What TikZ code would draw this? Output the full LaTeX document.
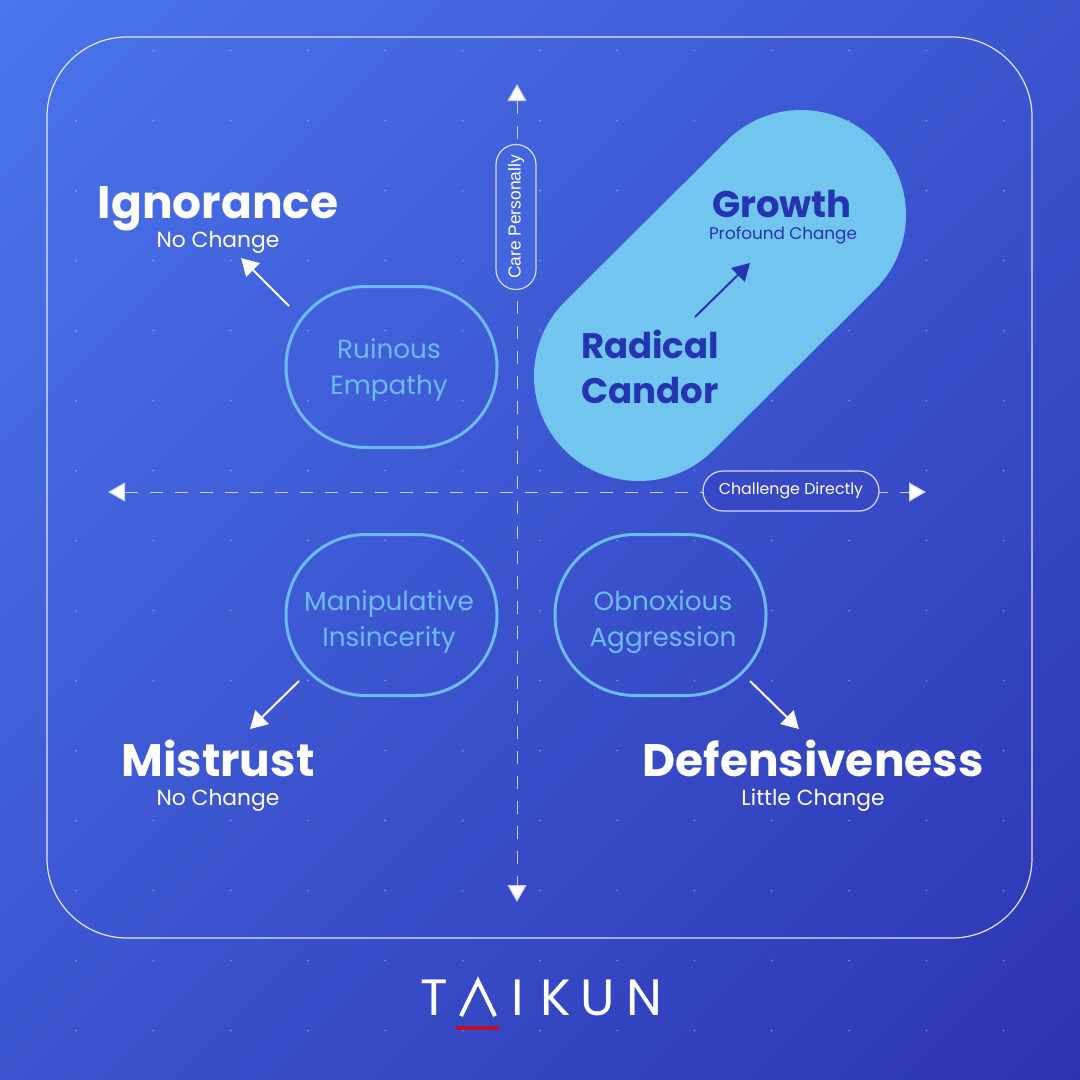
\documentclass[tikz,border=0pt]{standalone}
\usepackage{fontspec}
\usetikzlibrary{arrows.meta,shapes.misc}
\setmainfont{Poppins}
\setsansfont{Liberation Sans}
\definecolor{bgA}{HTML}{5082F8}
\definecolor{bgB}{HTML}{2727A6}
\definecolor{pale}{HTML}{71C5EF}
\definecolor{navy}{HTML}{2534B0}
\definecolor{sky}{HTML}{6DBBF5}
\definecolor{logored}{HTML}{C00F25}
\pgfdeclareverticalshading{bgdiag}{100bp}{color(0bp)=(bgB); color(100bp)=(bgA)}
\tikzset{
  x=1pt,y=-1pt,
  griddot/.style={fill=white,fill opacity=.35,draw=none},
  bigword/.style={text=white,font=\bfseries\fontsize{45.5}{45.5}\selectfont,inner sep=0,anchor=base},
  subword/.style={text=white,font=\fontsize{21.8}{21.8}\selectfont,inner sep=0,anchor=base},
  navyword/.style={text=navy,font=\bfseries\fontsize{35.5}{35.5}\selectfont,inner sep=0,anchor=base},
  blob/.style={draw=sky,line width=3pt,rounded corners=80pt,minimum width=211pt,minimum height=161pt,inner sep=0},
  blobword/.style={text=sky,font=\fontsize{26.3}{36}\selectfont,align=center,inner sep=0},
  axisline/.style={draw=white!80!blue,line width=1pt,dash pattern=on 13pt off 12pt,{Triangle[width=19pt,length=17pt,fill=white]}-{Triangle[width=19pt,length=17pt,fill=white]}},
  pointer/.style={draw=white,line width=2pt,-{Triangle[width=19pt,length=17pt]}},
  pillbox/.style={draw=white!85!blue,line width=1.2pt,rounded rectangle,inner sep=0},
  logoletter/.style={text=white,font=\fontsize{51}{51}\selectfont,inner sep=0}
}
\begin{document}
\begin{tikzpicture}
\useasboundingbox (0,0) rectangle (1080,1080);
\shade[shading=bgdiag,shading angle=45] (0,0) rectangle (1080,1080);
\foreach \i in {0,...,13}{\foreach \j in {0,...,14}{
  \fill[griddot] ({76+77.3*\i},{50.5+70*\j}) circle (1pt);
}}
\draw[white!90!blue,line width=1.2pt,rounded corners=80pt] (47,37) rectangle (1032,938);

% pale capsule
\coordinate (capA) at (639,376);
\coordinate (capB) at (801,215);
\draw[pale,line width=210pt,line cap=round] (capA) -- (capB);

% axes
\coordinate (axL) at (108,492);
\coordinate (axR) at (926,492);
\coordinate (axT) at (517,84);
\coordinate (axB) at (517,902);
\draw[axisline] (axL) -- (axR);
\draw[axisline] (axT) -- (axB);
\node[pillbox,minimum width=176pt,minimum height=40pt,fill=bgB!64!bgA] (chal) at (791,491) {};
\node[text=white,font=\fontsize{15.8}{15.8}\selectfont,inner sep=0] (chalt) at (791,491) {Challenge Directly};
\node[pillbox,fill=bgB!32!bgA,minimum width=145pt,minimum height=40pt,rotate=90] (care) at (516,217) {};
\node[text=white,font=\sffamily\fontsize{17.4}{17.4}\selectfont,rotate=90,inner sep=0] (caret) at (516,217) {Care Personally};

% quadrant blobs
\node[blob] (ruin) at (391.5,367) {};
\node[blob] (mani) at (391.5,615) {};
\node[blob] (obno) at (660.5,615) {};
\node[blobword] (ruint) at (389,370) {Ruinous\\Empathy};
\node[blobword] (manit) at (389,622) {Manipulative\\Insincerity};
\node[blobword] (obnot) at (663,622) {Obnoxious\\Aggression};

% outcome labels
\node[bigword] (ign) at (218,218) {Ignorance};
\node[subword] (ignS) at (218,247) {No Change};
\node[bigword] (mis) at (218,776) {Mistrust};
\node[subword] (misS) at (218,805) {No Change};
\node[bigword] (def) at (813,776) {Defensiveness};
\node[subword] (defS) at (813,805) {Little Change};
\node[navyword,font=\bfseries\fontsize{37}{37}\selectfont] (gro) at (782,217) {Growth};
\node[text=navy,font=\fontsize{16.8}{16.8}\selectfont,inner sep=0,anchor=base] (groS) at (783,239) {Profound Change};
\node[navyword] (rad) at (650,358) {Radical};
\node[navyword] (can) at (650,403) {Candor};

% pointers
\coordinate (p1a) at (289,306); \coordinate (p1b) at (241,258);
\coordinate (p2a) at (299,681); \coordinate (p2b) at (250,729);
\coordinate (p3a) at (750,681); \coordinate (p3b) at (799,729);
\coordinate (p4a) at (695,317); \coordinate (p4b) at (750,263);
\draw[pointer] (p1a) -- (p1b);
\draw[pointer] (p2a) -- (p2b);
\draw[pointer] (p3a) -- (p3b);
\draw[pointer,draw=navy] (p4a) -- (p4b);

% logo
\node[logoletter] (logoT) at (434,998) {T};
\coordinate (lamL) at (461,1016); \coordinate (lamT) at (478,981); \coordinate (lamR) at (495,1016);
\draw[white,line width=4pt] (lamL) -- (lamT) -- (lamR);
\node[logoletter] (logoI) at (517.5,998) {I};
\node[logoletter] (logoK) at (556,998) {K};
\node[logoletter] (logoU) at (598,998) {U};
\node[logoletter] (logoN) at (644,998) {N};
\coordinate (barL) at (456,1028); \coordinate (barR) at (499,1028);
\draw[logored,line width=4.5pt] (barL) -- (barR);
\end{tikzpicture}
\end{document}
